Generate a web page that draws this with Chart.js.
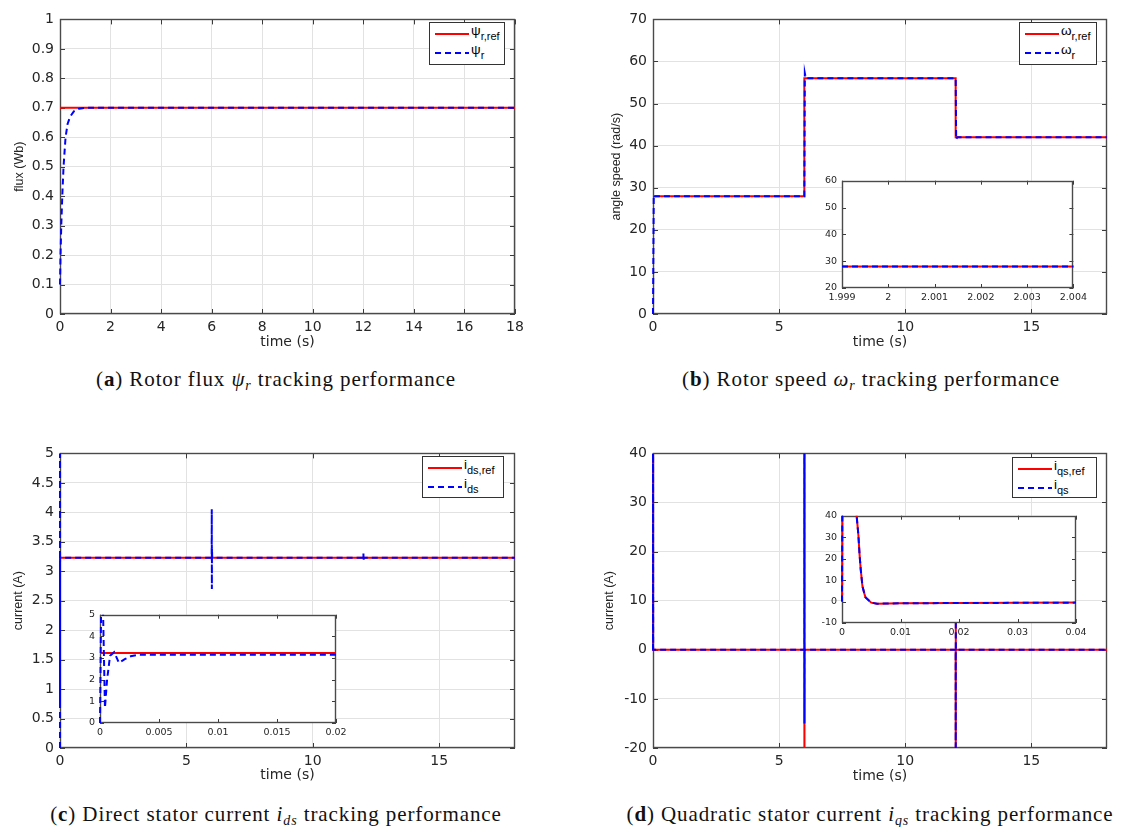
<!DOCTYPE html>
<html>
<head>
<meta charset="utf-8">
<script src="https://cdn.jsdelivr.net/npm/chart.js@4.4.0/dist/chart.umd.min.js"></script>
<style>
  body { margin: 0; background: #fff; }
  #fig { position: relative; width: 1122px; height: 827px; overflow: hidden; background: #fff; }
  canvas { position: absolute; }
  .leg { position: absolute; border: 1px solid #333; background: #fff; box-sizing: border-box;
         font-family: "Liberation Sans", Arial, sans-serif; font-size: 13.5px; color: #000; }
  .leg .smp { position: absolute; height: 2px; width: 34px; }
  .leg .solid { background: #ff0000; }
  .leg .dash { background: repeating-linear-gradient(90deg, #0000ff 0 6px, transparent 6px 10px); }
  .leg .lab { position: absolute; white-space: nowrap; line-height: 14px; }
  .leg sub { font-size: 11px; vertical-align: -5px; line-height: 0; }
  .cap { position: absolute; white-space: nowrap; transform: translateX(-50%);
         font-family: "Liberation Serif", serif; font-size: 21px; letter-spacing: 0.9px; color: #111; line-height: 24px; }
  .cap sub { font-size: 14px; vertical-align: -4px; line-height: 0; }
</style>
</head>
<body>
<div id="fig"></div>
<script>
// (a) 转子磁链
const fluxRefTime = [0, 18];
const fluxRef = [0.7, 0.7];
const fluxTime = [0, 0.02, 0.05, 0.09, 0.14, 0.22, 0.3, 0.4, 0.55, 0.75, 1.0, 18];
const flux = [0.1, 0.2, 0.3, 0.4, 0.5, 0.6, 0.645, 0.67, 0.688, 0.697, 0.7, 0.7];
const fluxXTicks = [0, 2, 4, 6, 8, 10, 12, 14, 16, 18];
const fluxYTicks = [0, 0.1, 0.2, 0.3, 0.4, 0.5, 0.6, 0.7, 0.8, 0.9, 1];

// (b) 转速
const speedRefTime = [0, 6, 6, 12, 12, 18];
const speedRef = [28, 28, 56, 56, 42, 42];
const speedTime = [0, 0.03, 0.06, 6, 6.02, 6.06, 12, 12.02, 12.06, 18];
const speed = [0, 28.3, 28, 28, 57.2, 56, 56, 41.5, 42, 42];
const speedZoomTime = [1.999, 2.004];
const speedZoomRef = [28, 28];
const speedZoom = [28, 28];
const speedXTicks = [0, 5, 10, 15];
const speedYTicks = [0, 10, 20, 30, 40, 50, 60, 70];
const speedZoomXTicks = [1.999, 2, 2.001, 2.002, 2.003, 2.004];
const speedZoomYTicks = [20, 30, 40, 50, 60];

// (c) d轴电流
const idsRefTime = [0, 18];
const idsRef = [3.23, 3.23];
const idsTime = [0, 0.0002, 0.0005, 0.001, 0.003, 6, 6.004, 6.008, 6.012, 6.02, 12, 12.004, 12.008, 12.02, 18];
const ids = [0, 6, 0.7, 3.1, 3.23, 3.23, 4.05, 2.7, 3.4, 3.23, 3.23, 3.3, 3.17, 3.23, 3.23];
const idsZoomRefTime = [0, 0.02];
const idsZoomRef = [3.23, 3.23];
const idsZoomTime = [0, 0.0001, 0.00025, 0.00042, 0.0006, 0.00085, 0.0012, 0.0016, 0.0021, 0.0026, 0.0033, 0.02];
const idsZoom = [0, 5.6, 5.4, 0.7, 2.0, 3.1, 3.27, 2.78, 2.95, 3.08, 3.15, 3.15];
const idsXTicks = [0, 5, 10, 15];
const idsYTicks = [0, 0.5, 1, 1.5, 2, 2.5, 3, 3.5, 4, 4.5, 5];
const idsZoomXTicks = [0, 0.005, 0.01, 0.015, 0.02];
const idsZoomYTicks = [0, 1, 2, 3, 4, 5];

// (d) q轴电流
const iqsTime = [0, 0.0002, 0.003, 0.006, 6, 6.002, 6.005, 6.01, 12, 12.002, 12.005, 12.01, 18];
const iqsRef = [0, 150, 22, 0, 0, 150, -40, 0, 0, -40, 6, 0, 0];
const iqs = [0, 150, 22, 0, 0, 150, -15, 0, 0, -40, 6, 0, 0];
const iqsZoomTime = [0, 0.0002, 0.0015, 0.0025, 0.0028, 0.003, 0.0032, 0.0035, 0.004, 0.005, 0.006, 0.01, 0.04];
const iqsZoomRef = [0, 150, 80, 40, 31, 22, 15, 7, 2, -0.5, -1, -0.8, -0.5];
const iqsZoom = [0, 150, 80, 40, 31, 22, 15, 7, 2, -0.5, -1, -0.8, -0.5];
const iqsXTicks = [0, 5, 10, 15];
const iqsYTicks = [-20, -10, 0, 10, 20, 30, 40];
const iqsZoomXTicks = [0, 0.01, 0.02, 0.03, 0.04];
const iqsZoomYTicks = [-10, 0, 10, 20, 30, 40];

Chart.defaults.font.family = '"DejaVu Sans", sans-serif';
Chart.defaults.color = '#262626';

const fig = document.getElementById('fig');

// 白底 + MATLAB 风格的外框和内向刻度
const frame = {
    id: 'frame',
    beforeDraw(chart) {
        const { ctx, chartArea: a } = chart;
        ctx.save();
        ctx.fillStyle = '#fff';
        ctx.fillRect(a.left, a.top, a.width, a.height);
        ctx.restore();
    },
    beforeDatasetsDraw(chart, args, opts) {
        const { ctx, chartArea: a, scales: { x, y } } = chart;
        const len = opts.len;
        ctx.save();
        ctx.strokeStyle = '#3a3a3a';
        ctx.lineWidth = 1;
        ctx.beginPath();
        x.ticks.forEach(t => {
            const px = Math.round(x.getPixelForValue(t.value)) + 0.5;
            ctx.moveTo(px, a.bottom); ctx.lineTo(px, a.bottom - len);
            ctx.moveTo(px, a.top); ctx.lineTo(px, a.top + len);
        });
        y.ticks.forEach(t => {
            const py = Math.round(y.getPixelForValue(t.value)) + 0.5;
            ctx.moveTo(a.left, py); ctx.lineTo(a.left + len, py);
            ctx.moveTo(a.right, py); ctx.lineTo(a.right - len, py);
        });
        ctx.stroke();
        ctx.strokeStyle = '#4a4a4a';
        ctx.lineWidth = 1.4;
        ctx.strokeRect(Math.round(a.left) + 0.5, Math.round(a.top) + 0.5,
            Math.round(a.width) - 1, Math.round(a.height) - 1);
        ctx.restore();
    },
};

function makeAxis(ticks, o) {
    return {
        type: 'linear',
        min: o.min,
        max: o.max,
        afterBuildTicks: s => { s.ticks = ticks.map(v => ({ value: v })); },
        afterFit: s => { if (s.isHorizontal()) s.height = o.size; else s.width = o.size; },
        grid: { display: o.grid, color: '#e2e2e2', lineWidth: 1, drawTicks: false },
        border: { display: false },
        ticks: {
            color: '#262626',
            font: { family: '"DejaVu Sans", sans-serif', size: o.font },
            padding: o.pad,
            maxRotation: 0,
            autoSkip: false,
            callback: v => String(+v.toFixed(6)),
        },
        title: o.title ? {
            display: true,
            text: o.title,
            color: '#262626',
            font: o.titleFont,
            padding: { top: 4, bottom: 4 },
        } : { display: false },
    };
}

function series(xs, ys, color, dashed, width) {
    return {
        data: xs.map((x, i) => ({ x: x, y: ys[i] })),
        borderColor: color,
        borderWidth: width,
        borderDash: dashed ? [6, 4] : [],
        pointRadius: 0,
        tension: 0,
        fill: false,
        order: dashed ? 0 : 1,
        clip: { left: 3, right: 3, top: 0, bottom: 0 },
    };
}

// box: 绘图区位置; c: 画布左/下边界
function makePlot(box, c, ax, datasets) {
    const left = c.left, top = box.t - c.padT, right = box.r + c.padR, bottom = c.bottom;
    const cv = document.createElement('canvas');
    cv.width = right - left; cv.height = bottom - top;
    cv.style.left = left + 'px'; cv.style.top = top + 'px';
    cv.style.width = (right - left) + 'px'; cv.style.height = (bottom - top) + 'px';
    fig.appendChild(cv);
    new Chart(cv, {
        type: 'line',
        data: { datasets: datasets },
        options: {
            responsive: false,
            animation: false,
            events: [],
            layout: { padding: { left: 0, top: c.padT, right: c.padR, bottom: 0 } },
            plugins: { legend: { display: false }, tooltip: { enabled: false }, frame: { len: c.tick } },
            scales: {
                x: makeAxis(ax.xTicks, Object.assign({ size: bottom - box.b }, ax.x)),
                y: makeAxis(ax.yTicks, Object.assign({ size: box.l - left }, ax.y)),
            },
        },
        plugins: [frame],
    });
}

const xTitle = { title: 'time (s)', titleFont: { family: '"DejaVu Sans", sans-serif', size: 14 } };
const yFont = { family: '"Liberation Sans", Arial, sans-serif', size: 12.5 };
const mainX = (max) => Object.assign({ min: 0, max: max, grid: true, font: 14, pad: 5 }, xTitle);
const mainY = (min, max, title) => ({ min: min, max: max, grid: true, font: 14, pad: 6, title: title, titleFont: yFont });
const insetX = (min, max) => ({ min: min, max: max, grid: false, font: 9.5, pad: 4 });
const insetY = (min, max) => ({ min: min, max: max, grid: false, font: 9.5, pad: 5 });

// (a)
makePlot({ l: 60, t: 15, r: 515, b: 314 }, { left: 8, bottom: 355, padT: 10, padR: 25, tick: 5 },
    { xTicks: fluxXTicks, yTicks: fluxYTicks, x: mainX(18), y: mainY(0, 1, 'flux (Wb)') },
    [series(fluxRefTime, fluxRef, '#ff0000', false, 2), series(fluxTime, flux, '#0000ff', true, 2)]);

// (b)
makePlot({ l: 653, t: 15, r: 1107, b: 314 }, { left: 605, bottom: 355, padT: 10, padR: 15, tick: 5 },
    { xTicks: speedXTicks, yTicks: speedYTicks, x: mainX(18), y: mainY(0, 70, 'angle speed (rad/s)') },
    [series(speedRefTime, speedRef, '#ff0000', false, 2), series(speedTime, speed, '#0000ff', true, 2)]);

// (c)
makePlot({ l: 60, t: 449, r: 515, b: 748 }, { left: 7, bottom: 788, padT: 10, padR: 25, tick: 5 },
    { xTicks: idsXTicks, yTicks: idsYTicks, x: mainX(18), y: mainY(0, 5, 'current (A)') },
    [series(idsRefTime, idsRef, '#ff0000', false, 2), series(idsTime, ids, '#0000ff', true, 2)]);

// (d)
makePlot({ l: 653, t: 449, r: 1107, b: 748 }, { left: 598, bottom: 789, padT: 10, padR: 15, tick: 5 },
    { xTicks: iqsXTicks, yTicks: iqsYTicks, x: mainX(18), y: mainY(-20, 40, 'current (A)') },
    [series(iqsTime, iqsRef, '#ff0000', false, 2), series(iqsTime, iqs, '#0000ff', true, 2)]);

// 局部放大图
makePlot({ l: 842, t: 178, r: 1076, b: 288 }, { left: 812, bottom: 308, padT: 8, padR: 15, tick: 4 },
    { xTicks: speedZoomXTicks, yTicks: speedZoomYTicks, x: insetX(1.999, 2.004), y: insetY(20, 60) },
    [series(speedZoomTime, speedZoomRef, '#ff0000', false, 2), series(speedZoomTime, speedZoom, '#0000ff', true, 2)]);

makePlot({ l: 100, t: 612, r: 336, b: 723 }, { left: 72, bottom: 743, padT: 8, padR: 15, tick: 4 },
    { xTicks: idsZoomXTicks, yTicks: idsZoomYTicks, x: insetX(0, 0.02), y: insetY(0, 5) },
    [series(idsZoomRefTime, idsZoomRef, '#ff0000', false, 2), series(idsZoomTime, idsZoom, '#0000ff', true, 2)]);

makePlot({ l: 842, t: 513, r: 1076, b: 623 }, { left: 812, bottom: 643, padT: 8, padR: 15, tick: 4 },
    { xTicks: iqsZoomXTicks, yTicks: iqsZoomYTicks, x: insetX(0, 0.04), y: insetY(-10, 40) },
    [series(iqsZoomTime, iqsZoomRef, '#ff0000', false, 2), series(iqsZoomTime, iqsZoom, '#0000ff', true, 2)]);

// 图例 (HTML, 便于下标)
function legend(left, top, width, height, sym, subRef, sub) {
    const d = document.createElement('div');
    d.className = 'leg';
    d.style.cssText = `left:${left}px;top:${top}px;width:${width}px;height:${height}px`;
    d.innerHTML =
        `<div class="smp solid" style="left:5px;top:10px"></div>` +
        `<div class="lab" style="left:41px;top:1px">${sym}<sub>${subRef}</sub></div>` +
        `<div class="smp dash" style="left:5px;top:29px"></div>` +
        `<div class="lab" style="left:41px;top:20px">${sym}<sub>${sub}</sub></div>`;
    fig.appendChild(d);
}
legend(429, 22, 76, 43, 'ψ', 'r,ref', 'r');
legend(1019, 22, 78, 43, 'ω', 'r,ref', 'r');
legend(422, 456, 82, 42, 'i', 'ds,ref', 'ds');
legend(1012, 457, 85, 41, 'i', 'qs,ref', 'qs');

// 子图标题
function caption(cx, top, html) {
    const d = document.createElement('div');
    d.className = 'cap';
    d.style.left = cx + 'px';
    d.style.top = top + 'px';
    d.innerHTML = html;
    fig.appendChild(d);
}
caption(276, 367, '(<b>a</b>) Rotor flux <i>ψ<sub>r</sub></i> tracking performance');
caption(871, 367, '(<b>b</b>) Rotor speed <i>ω<sub>r</sub></i> tracking performance');
caption(276, 802, '(<b>c</b>) Direct stator current <i>i<sub>ds</sub></i> tracking performance');
caption(870, 802, '(<b>d</b>) Quadratic stator current <i>i<sub>qs</sub></i> tracking performance');
</script>
</body>
</html>
